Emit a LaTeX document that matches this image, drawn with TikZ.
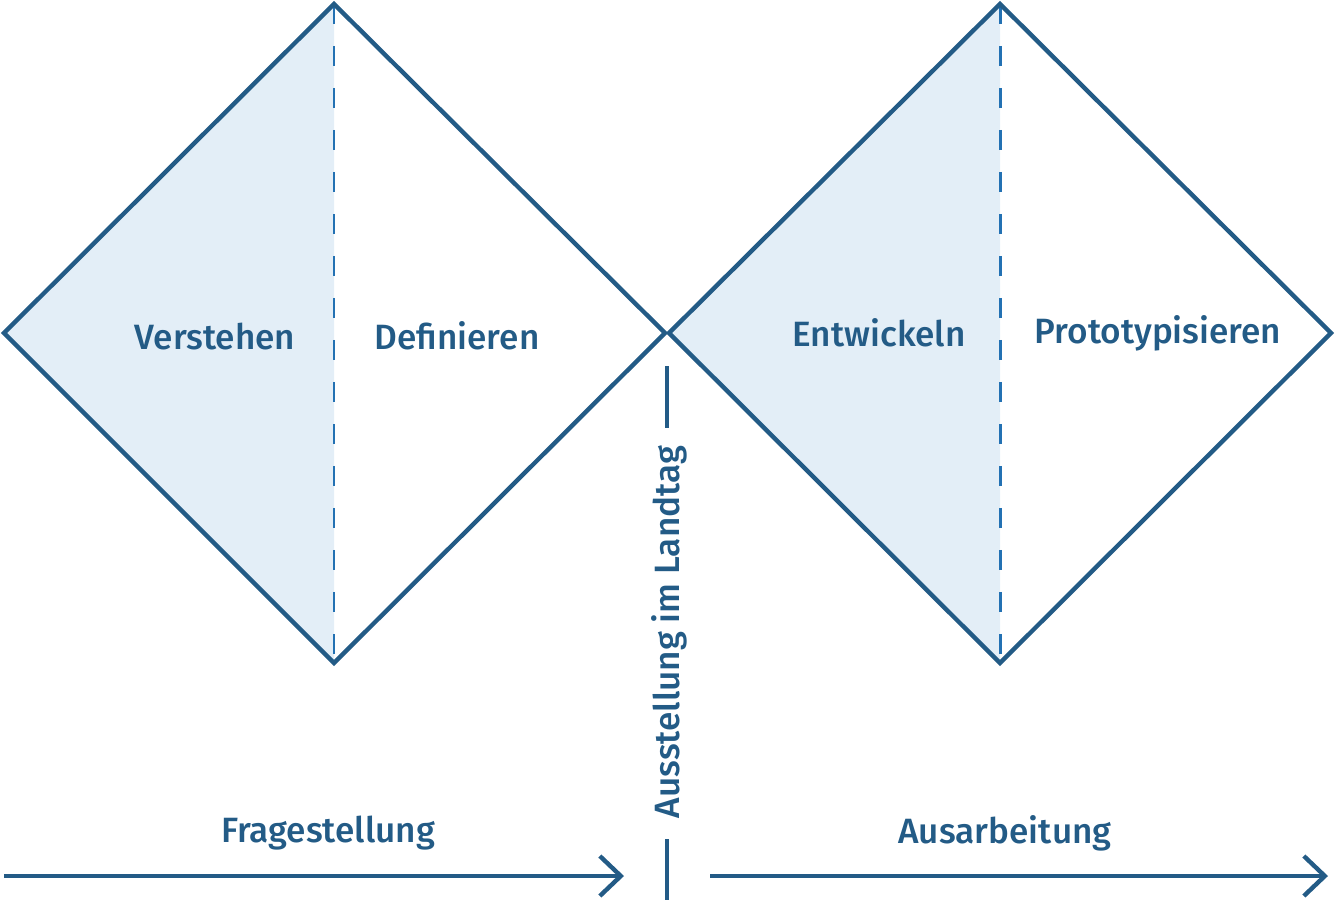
\documentclass[tikz,border=0pt]{standalone}
\usepackage{fontspec}
\setmainfont{Fira Sans Medium}
\usepackage{tikz}
\usetikzlibrary{arrows.meta,positioning,calc}

\definecolor{dblue}{HTML}{235B86}
\definecolor{lblue}{HTML}{E3EEF7}
\definecolor{mblue}{HTML}{2371B3}

\begin{document}
\begin{tikzpicture}[
    x=0.02cm, y=-0.02cm,
    outline/.style = {draw=dblue, line width=2.5pt, line join=miter},
    halfline/.style = {draw=mblue, line width=1.7pt, dash pattern=on 0.4cm off 0.44cm},
    phase/.style = {text=dblue, font=\fontsize{20}{24}\selectfont},
    flow/.style = {draw=dblue, line width=2.5pt, -{Straight Barb[length=0.42cm, width=0.8cm]}},
    tick/.style = {draw=dblue, line width=2pt}
]
    \useasboundingbox (0,0) rectangle (1335,902);

    % Diamond corners
    \coordinate (dl1) at (4,333);
    \coordinate (dt1) at (334,4);
    \coordinate (dr1) at (665,333);
    \coordinate (db1) at (334,663);
    \coordinate (dl2) at (669,333);
    \coordinate (dt2) at (1000,4);
    \coordinate (dr2) at (1331,333);
    \coordinate (db2) at (1000,663);

    % Shaded left halves
    \fill[lblue] (dl1) -- (dt1) -- (db1) -- cycle;
    \fill[lblue] (dl2) -- (dt2) -- (db2) -- cycle;

    % Dashed middle lines
    \draw[halfline] (dt1) -- (db1);
    \draw[halfline] (dt2) -- (db2);

    % Diamond outlines
    \draw[outline] (dl1) -- (dt1) -- (dr1) -- (db1) -- cycle;
    \draw[outline] (dl2) -- (dt2) -- (dr2) -- (db2) -- cycle;

    % Phase labels
    \node[phase] (verstehen) at (215,337) {Verstehen};
    \node[phase] (definieren) at (457,336) {Definieren};
    \node[phase] (entwickeln) at (879,333) {Entwickeln};
    \node[phase] (prototyp) at (1158,333) {Prototypisieren};

    % Milestone in the middle
    \node[phase, rotate=90] (ausstellung) at (669,632) {Ausstellung im Landtag};
    \coordinate (mtop1) at (667,366);
    \coordinate (mtop2) at (667,428);
    \coordinate (mbot1) at (667,839);
    \coordinate (mbot2) at (667,900);
    \draw[tick] (mtop1) -- (mtop2);
    \draw[tick] (mbot1) -- (mbot2);

    % Bottom arrows
    \coordinate (fstart) at (4,876);
    \coordinate (fend) at (624,876);
    \coordinate (astart) at (710,876);
    \coordinate (aend) at (1328,876);
    \draw[flow] (fstart) -- (fend);
    \draw[flow] (astart) -- (aend);
    \node[phase] (frage) at (328,833) {Fragestellung};
    \node[phase] (ausarb) at (1005,833) {Ausarbeitung};

\end{tikzpicture}
\end{document}
